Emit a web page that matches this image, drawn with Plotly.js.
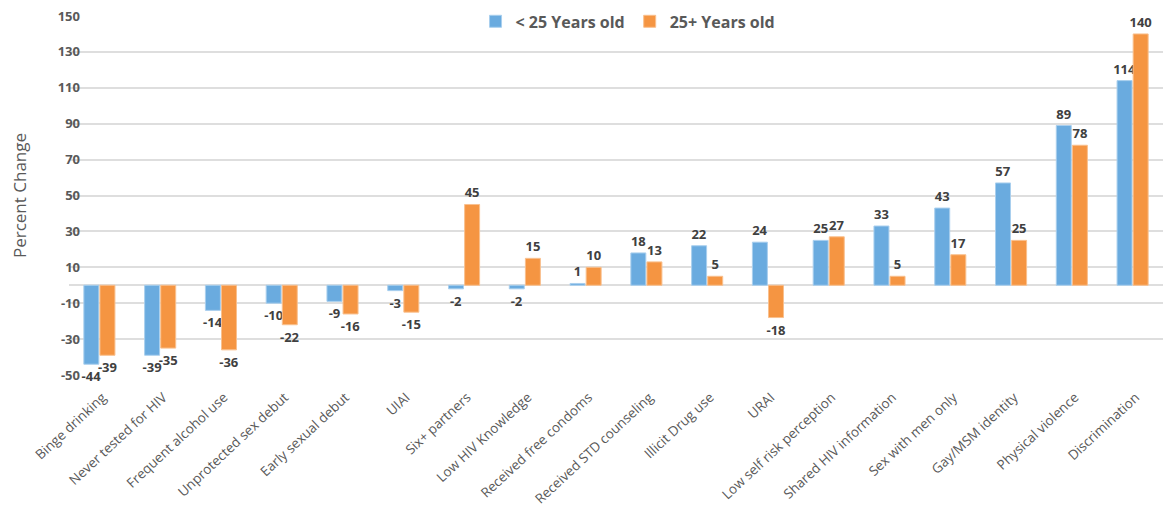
<!DOCTYPE html>
<html>
<head>
<meta charset="utf-8">
<script src="https://cdn.plot.ly/plotly-3.0.1.min.js"></script>
<style>html,body{margin:0;padding:0;background:#fff;}#chart{width:1163px;height:507px;}</style>
</head>
<body>
<div id="chart"></div>
<script>
var categories = ["Binge drinking","Never tested for HIV","Frequent alcohol use","Unprotected sex debut","Early sexual debut","UIAI","Six+ partners","Low HIV Knowledge","Received free condoms","Received STD counseling","Illicit Drug use","URAI","Low self risk perception","Shared HIV information","Sex with men only","Gay/MSM identity","Physical violence","Discrimination"];
var under25 = [-44,-39,-14,-10,-9,-3,-2,-2,1,18,22,24,25,33,43,57,89,114];
var over25 = [-39,-35,-36,-22,-16,-15,45,15,10,13,5,-18,27,5,17,25,78,140];
var seriesNames = ["< 25 Years old","25+ Years old"];
var yTicks = [-50,-30,-10,10,30,50,70,90,110,130,150];

var labelFont = {family:"Open Sans, sans-serif", size:13, color:"#404040", weight:"bold"};
function mk(name, vals, color, lineColor){
  return {
    type:"bar", name:name, x:categories, y:vals,
    marker:{color:color, line:{color:lineColor, width:1}},
    text:vals.map(String), textposition:"outside", textfont:labelFont,
    constraintext:"none", cliponaxis:false, hoverinfo:"none"
  };
}
var data = [
  mk(seriesNames[0], under25, "#6aabdf", "#a9cfee"),
  mk(seriesNames[1], over25, "#f59542", "#f9c08e")
];
var layout = {
  width:1163, height:507,
  margin:{l:69, r:0, t:16, b:132, pad:0},
  paper_bgcolor:"#fff", plot_bgcolor:"#fff",
  barmode:"group", bargap:0.47, bargroupgap:0.07,
  font:{family:"Open Sans, sans-serif", color:"#595959"},
  showlegend:true,
  legend:{orientation:"h", x:0.511, xanchor:"center", y:0.985, yanchor:"middle",
    bgcolor:"#fff", font:{size:16, color:"#595959", weight:"bold"}, traceorder:"normal"},
  xaxis:{tickangle:-43, tickfont:{size:13.5, color:"#595959"}, showgrid:false, showline:false, ticks:"",
    ticklabelstandoff:11, ticklabelshift:3, automargin:false},
  yaxis:{range:[-50,150], tickvals:yTicks, ticktext:yTicks.map(String),
    tickfont:{size:13, color:"#595959", weight:"bold"},
    showgrid:true, gridcolor:"#dedede", gridwidth:2,
    zeroline:true, zerolinecolor:"#dedede", zerolinewidth:2,
    ticks:"", ticklen:0, ticklabelstandoff:-12, automargin:false,
    title:{text:"Percent Change", font:{size:17, color:"#595959"}, standoff:26}}
};
Plotly.newPlot("chart", data, layout, {displayModeBar:false, staticPlot:true});
</script>
</body>
</html>
